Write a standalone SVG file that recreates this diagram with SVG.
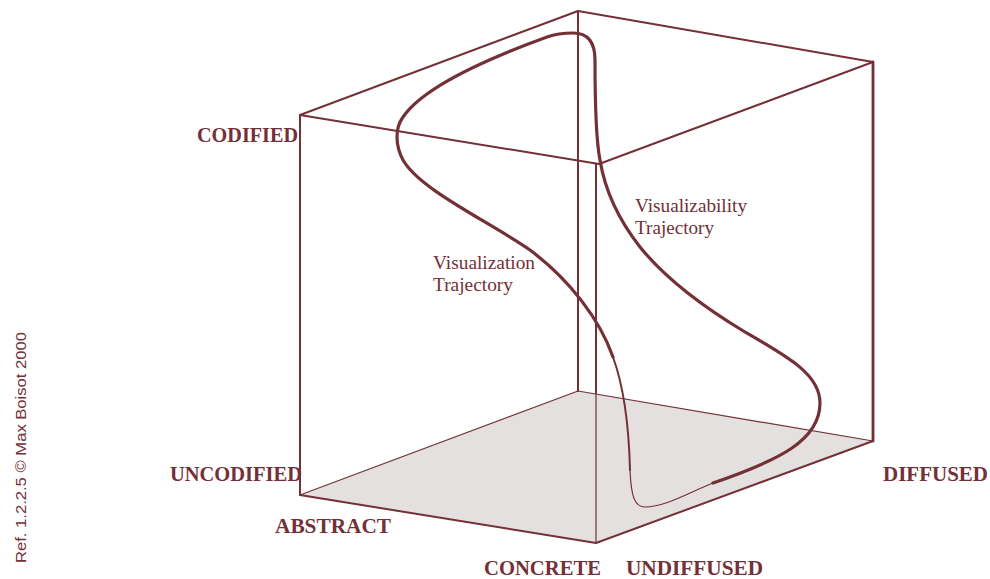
<svg xmlns="http://www.w3.org/2000/svg" width="990" height="579" viewBox="0 0 990 579">
<style>
.e{stroke:#733036;fill:none;stroke-linecap:round;stroke-linejoin:round}
.thin{stroke-width:1.2}
.mid{stroke-width:2}
.thick{stroke-width:2.8}
.curve{stroke-width:3.2}
.lab{font-family:"Liberation Serif","Times New Roman",serif;font-weight:bold;font-size:20px;fill:#733036}
.sm{font-family:"Liberation Serif","Times New Roman",serif;font-size:18px;fill:#733036}
.ref{font-family:"Liberation Sans",Arial,sans-serif;font-size:15px;fill:#733036}
</style>
<rect width="990" height="579" fill="#ffffff"/>
<g id="floor">
<polygon points="300,495 578,391 873,441 596,543" fill="#e4e0e0"/>
<polyline class="e thin" points="300,495 578,391 873,441"/>
</g>
<g id="cube">
<line class="e thin" x1="596" y1="393" x2="596" y2="543"/>
<line class="e mid" x1="596" y1="164" x2="596" y2="393"/>
<line class="e mid" x1="578" y1="11" x2="578" y2="391"/>
<line class="e mid" x1="300" y1="115" x2="300" y2="495"/>
<line class="e thick" x1="873" y1="62" x2="873" y2="441"/>
<polyline class="e mid" points="300,115 578,11 873,62"/>
<polyline class="e mid" points="300,115 599,164 873,62"/>
<polyline class="e mid" points="300,495 596,543 873,441"/>
</g>
<g id="connectors">
<path id="trajectory-main" class="e curve" d="M 613,357 C 600,320 570,280 530,250 C 490,222 420,190 403,160 C 395,145 395,128 403,117 C 420,92 470,65 547,37 C 558,33 566,33 573,33 C 588,33 595,42 595,60 C 595,100 596,140 600,160 C 604,185 615,215 640,247 C 665,278 700,305 745,332 C 790,358 820,375 820,403 C 820,440 780,460 713,483"/>
<path id="trajectory-mid" class="e mid" d="M 630,470 C 629,430 625,390 613,357"/>
<path id="trajectory-thin" class="e thin" d="M 713,483 C 690,492 665,507 645,507 C 635,507 631,497 630,470"/>
</g>
<g id="labels">
<text class="lab" x="197" y="142" textLength="101" lengthAdjust="spacingAndGlyphs">CODIFIED</text>
<text class="lab" x="170" y="481" textLength="132" lengthAdjust="spacingAndGlyphs">UNCODIFIED</text>
<text class="lab" x="275" y="533" textLength="116" lengthAdjust="spacingAndGlyphs">ABSTRACT</text>
<text class="lab" x="484" y="575" textLength="117" lengthAdjust="spacingAndGlyphs">CONCRETE</text>
<text class="lab" x="626" y="575" textLength="137" lengthAdjust="spacingAndGlyphs">UNDIFFUSED</text>
<text class="lab" x="883" y="481" textLength="105" lengthAdjust="spacingAndGlyphs">DIFFUSED</text>
<text class="sm" x="433" y="269" textLength="102" lengthAdjust="spacingAndGlyphs">Visualization</text>
<text class="sm" x="433" y="291" textLength="80" lengthAdjust="spacingAndGlyphs">Trajectory</text>
<text class="sm" x="635" y="212" textLength="112" lengthAdjust="spacingAndGlyphs">Visualizability</text>
<text class="sm" x="635" y="234" textLength="79" lengthAdjust="spacingAndGlyphs">Trajectory</text>
<text class="ref" transform="translate(26,563) rotate(-90)" textLength="231" lengthAdjust="spacingAndGlyphs">Ref. 1.2.2.5 © Max Boisot 2000</text>
</g>
</svg>
